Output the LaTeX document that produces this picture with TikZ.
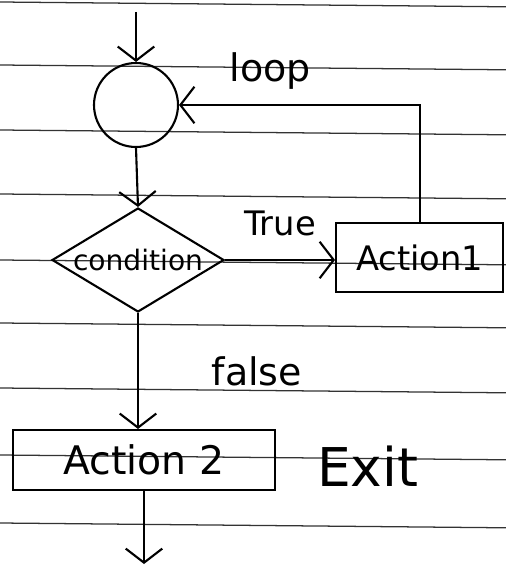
\documentclass[tikz,border=0pt]{standalone}
\usepackage{fontspec}
\setmainfont{DejaVu Sans}
\usetikzlibrary{shapes.geometric,arrows.meta,positioning}

\tikzset{
  ruled/.style={draw=black!80,line width=.9pt},
  flowline/.style={line width=1.5pt},
  flowarrow/.style={flowline,-{Straight Barb[length=10pt,width=26pt,line width=1.5pt]}},
  startnode/.style={circle,draw,line width=1.5pt,minimum size=2.1cm,inner sep=0pt},
  decision/.style={diamond,aspect=1.65,draw,line width=1.5pt,minimum width=4.3cm,minimum height=2.6cm,inner sep=0pt},
  actionbox/.style={rectangle,draw,line width=1.5pt,inner sep=0pt}
}

\begin{document}
\begin{tikzpicture}

\useasboundingbox (0cm,0cm) rectangle (12.65cm,-14.325cm);

% lined paper
\foreach \y in {-0.05,-1.625,-3.25,-4.85,-6.5,-8.075,-9.7,-11.375,-13.075}
  \draw [ruled] (0cm,\y cm) -- (12.65cm,\y cm-.12cm);

\coordinate (entry) at (3.4cm,-0.3cm);
\coordinate (leave) at (3.6cm,-14.1cm);

\node (start) at (3.4cm,-2.625cm) [startnode] {};
\node (cond) at (3.45cm,-6.5cm) [decision] {\fontsize{20}{24}\selectfont condition};
\node (act1) at (10.49cm,-6.44cm) [actionbox,minimum width=4.175cm,minimum height=1.725cm] {\fontsize{24}{28}\selectfont Action1};
\node (act2) at (3.6cm,-11.5cm) [actionbox,minimum width=6.55cm,minimum height=1.5cm] {\fontsize{28}{32}\selectfont Action 2};
\node (exit) [right=0.9cm of act2,yshift=-.15cm] {\fontsize{38}{42}\selectfont Exit};

\draw [flowarrow] (entry) -- (start.north);
\draw [flowarrow] (start.south) -- (cond.north);
\draw [flowarrow] (cond.east) -- node [above,yshift=.45cm] {\fontsize{24}{28}\selectfont True} (cond.east -| act1.west);
\draw [flowarrow] (act1.north) |- node [pos=.81,above,yshift=.25cm] {\fontsize{27}{30}\selectfont loop} (start.east);
\draw [flowarrow] (cond.south) -- node [midway,right,xshift=1.7cm] {\fontsize{27}{30}\selectfont false} (cond.south |- act2.north);
\draw [flowarrow] (act2.south) -- (leave);

\end{tikzpicture}
\end{document}
